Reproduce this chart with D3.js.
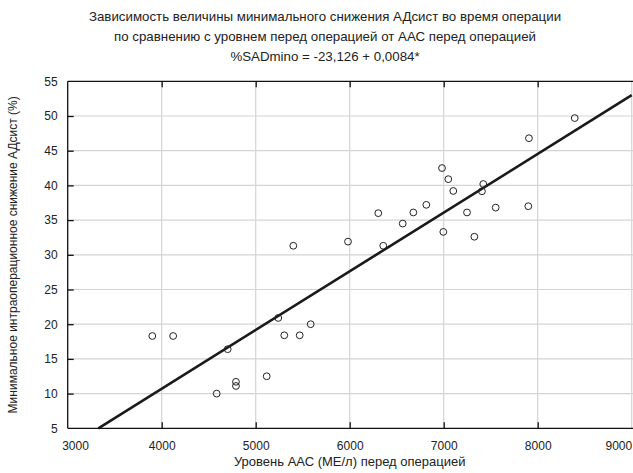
<!DOCTYPE html>
<html><head><meta charset="utf-8">
<script src="https://cdn.jsdelivr.net/npm/d3@7"></script>
<style>body{margin:0;background:#fff}svg{display:block}text{font-family:"Liberation Sans",Arial,sans-serif;fill:#222}</style>
</head><body><svg id="c" width="633" height="473"></svg>
<script>
const titleLines = ["Зависимость величины минимального снижения АДсист во время операции",
  "по сравнению с уровнем перед операцией от ААС перед операцией",
  "%SADmino = -23,126 + 0,0084*"];
const xLabel = "Уровень ААС (МЕ/л) перед операцией";
const yLabel = "Минимальное интраоперационное снижение АДсист (%)";
const xTicks = [3000,4000,5000,6000,7000,8000,9000];
const yTicks = [5,10,15,20,25,30,35,40,45,50,55];
const aac = [3900,4122,4585,4702,4790,4790,5117,5240,5304,5468,5400,5585,5982,6304,6357,6564,6677,6815,6982,7049,7102,6996,7248,7326,7421,7407,7553,7900,7907,8394];
const sad = [18.3,18.3,10.0,16.4,11.7,11.1,12.5,20.9,18.4,18.4,31.3,20.0,31.9,36.0,31.3,34.5,36.1,37.2,42.5,40.9,39.2,33.3,36.1,32.6,40.2,39.15,36.8,37.0,46.8,49.7];
const fitX = [3326, 9000];
const fitY = [5, 53.0];

const svg = d3.select("#c");
const L=67.7, R=631.7, T=81.3, B=428.3;
const x = d3.scaleLinear().domain([3000,9000]).range([L,R]);
const y = d3.scaleLinear().domain([5,55]).range([B,T]);

// grid
svg.append("g").selectAll("line").data(xTicks.slice(1)).join("line")
  .attr("x1",d=>x(d)).attr("x2",d=>x(d)).attr("y1",T).attr("y2",B)
  .attr("stroke","#d4d4d4").attr("stroke-width",1.2);
svg.append("g").selectAll("line").data(yTicks.slice(1,-1)).join("line")
  .attr("x1",L).attr("x2",633).attr("y1",d=>y(d)).attr("y2",d=>y(d))
  .attr("stroke","#d4d4d4").attr("stroke-width",1.2);

// frame
svg.append("line").attr("x1",L).attr("x2",633).attr("y1",T).attr("y2",T).attr("stroke","#111").attr("stroke-width",1.3);
svg.append("line").attr("x1",L).attr("x2",633).attr("y1",B).attr("y2",B).attr("stroke","#111").attr("stroke-width",1.3);
svg.append("line").attr("x1",L).attr("x2",L).attr("y1",T).attr("y2",B).attr("stroke","#111").attr("stroke-width",1.3);

// axes
const gx = svg.append("g").attr("transform",`translate(0,${B})`)
  .call(d3.axisBottom(x).tickValues(xTicks).tickSizeInner(-6).tickSizeOuter(0).tickPadding(13).tickFormat(d3.format("d")));
const gxt = svg.append("g").attr("transform",`translate(0,${T})`)
  .call(d3.axisTop(x).tickValues(xTicks.slice(1,-1)).tickSizeInner(-6).tickSizeOuter(0).tickFormat(""));
const gy = svg.append("g").attr("transform",`translate(${L},0)`)
  .call(d3.axisLeft(y).tickValues(yTicks).tickSizeInner(-6).tickSizeOuter(0).tickPadding(10));
[gx,gxt,gy].forEach(g=>{
  g.select(".domain").remove();
  g.selectAll(".tick line").attr("stroke","#111").attr("stroke-width",1.3);
  g.selectAll(".tick text").style("font-size","12px").attr("fill","#222");
});
gy.selectAll(".tick").filter(d=>d===5||d===55).select("line").remove();
gx.selectAll(".tick").filter(d=>d===3000||d===9000).select("line").remove();
gx.selectAll(".tick").filter(d=>d===3000).select("text").attr("text-anchor","start").attr("dx",-6);
gx.selectAll(".tick").filter(d=>d===9000).select("text").attr("text-anchor","end").attr("dx",0);

// fit line
svg.append("line").attr("x1",x(fitX[0])).attr("y1",y(fitY[0])).attr("x2",x(fitX[1])).attr("y2",y(fitY[1]))
  .attr("stroke","#1a1a1a").attr("stroke-width",2.6);

// points
svg.append("g").selectAll("circle").data(aac.map((v,i)=>[v,sad[i]])).join("circle")
  .attr("cx",d=>x(d[0])).attr("cy",d=>y(d[1])).attr("r",3.4)
  .attr("fill","none").attr("stroke","#222").attr("stroke-width",1);

// titles
svg.append("g").selectAll("text").data(titleLines).join("text")
  .attr("x",325).attr("y",(d,i)=>21+i*20).attr("text-anchor","middle")
  .style("font-size","13.3px").text(d=>d);
svg.append("text").attr("x",(L+R)/2).attr("y",466).attr("text-anchor","middle")
  .style("font-size","13px").text(xLabel);
svg.append("text").attr("transform",`translate(17,${(T+B)/2}) rotate(-90)`).attr("text-anchor","middle")
  .style("font-size","12px").text(yLabel);
</script></body></html>
